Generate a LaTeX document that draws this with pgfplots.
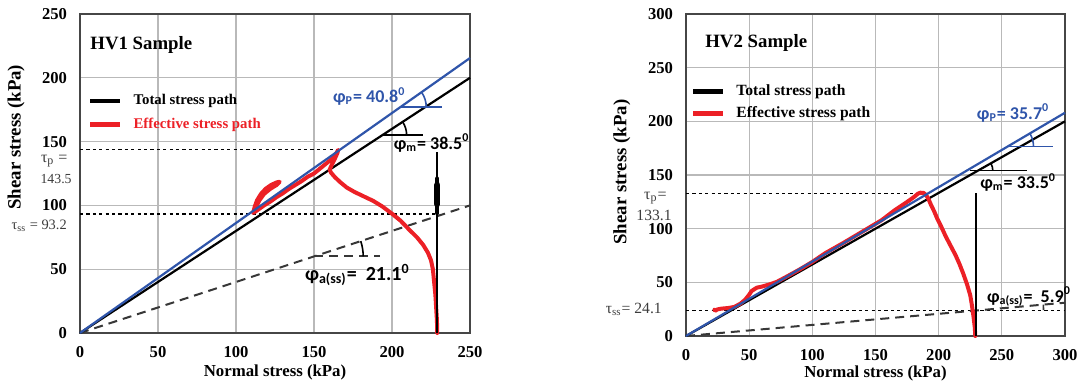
\documentclass[border=0pt]{standalone}
\usepackage{pgfplots}
\pgfplotsset{compat=1.18}
\usepackage{fontspec}
\setmainfont{Liberation Serif}
\newfontfamily\carlito{Carlito}
\definecolor{myblue}{RGB}{47,85,170}
\definecolor{myred}{RGB}{236,32,38}
\definecolor{framegray}{RGB}{70,70,70}
\definecolor{gridgray}{RGB}{185,185,185}
\definecolor{dashgray}{RGB}{55,55,55}
\definecolor{taugray}{RGB}{60,60,60}
\pgfplotsset{
 common/.style={
  scale only axis, clip=false,
  axis line style={framegray, line width=1.3pt},
  grid=major, major grid style={gridgray, line width=0.6pt},
  tick style={draw=none},
  /pgf/number format/assume math mode=true,
  tick label style={font=\bfseries\fontsize{8.3}{9}\selectfont},
  xticklabel style={yshift=-3pt},
  yticklabel style={xshift=-3pt},
  xlabel style={font=\bfseries\fontsize{8.4}{9}\selectfont},
  ylabel style={font=\bfseries\fontsize{9.4}{10}\selectfont},
  xmin=0, ymin=0,
  legend style={draw=none, fill=none, inner sep=0pt, font=\bfseries\fontsize{7.4}{9}\selectfont, row sep=3pt, nodes={inner sep=1pt},
    /tikz/every odd column/.append style={column sep=4.5pt}},
  legend cell align=left,
  legend image code/.code={\draw[#1, line width=2.2pt] (0,0) -- (15pt,0);},
 },
 tauline/.style={black, line width=0.6pt, dash pattern=on 1.6pt off 1.6pt, forget plot},
 dashline/.style={dashgray, line width=1pt, dash pattern=on 4.5pt off 3pt, forget plot},
}
\tikzset{
 ann/.style={inner sep=0pt, font=\carlito\bfseries\fontsize{9}{10}\selectfont},
 tau/.style={inner sep=0pt, anchor=base east, text=taugray},
}
\begin{document}
\begin{tikzpicture}
\path[use as bounding box] (0,0) rectangle (539pt,192.5pt);
% ---------------- HV1 ----------------
\begin{axis}[common,
  at={(40pt,26pt)}, anchor=south west, width=195pt, height=159.5pt,
  xmax=250, ymax=250, xtick={0,50,...,250}, ytick={0,50,...,250},
  xlabel={Normal stress (kPa)}, ylabel={Shear stress (kPa)},
  xlabel style={at={(axis description cs:0.5,-0.125)}, anchor=center},
  ylabel style={at={(axis description cs:-0.164,0.614)}, anchor=center},
  legend style={at={(axis description cs:0.02,0.69)}, anchor=west},
]
\addlegendimage{black}
\addlegendentry{Total stress path}
\addlegendimage{myred}
\addlegendentry{\textcolor{myred}{Effective stress path}}
% tau lines
\addplot[tauline] coordinates {(0,143.5) (165,143.5)};
\addplot[tauline] coordinates {(0,93.2) (229,93.2)};
% dashed line
\addplot[dashline] coordinates {(0,0) (250,100)};
\addplot[dashline] coordinates {(150,60) (192,60)};
% total stress envelope
\addplot[black, line width=1.1pt, forget plot] coordinates {(0,0) (250,200)};
\addplot[black, line width=0.8pt, forget plot] coordinates {(193.75,155) (220,155)};
% effective stress path
\addplot[myred, line width=2pt, line join=round, line cap=round, forget plot] coordinates {
(229,0) (228.8,10) (228.3,20) (227.8,30) (227,40) (226.2,50) (225,57) (223,63) (220,69) (216,75) (211,81) (205.5,88) (200,93.5) (194,99) (188,103.5) (182,107) (176,110.5) (171,114) (167,118) (163.5,122) (161,125.5) (160,128)
(161.5,132) (163.5,137) (165,141) (165.5,143.5)
(163,138) (158,133) (154,129) (150,125) (146,122.5) (142,119) (138,116) (134,113) (130,109.5) (126,106.5) (122,103) (118,100) (114,96.5) (111,94)
(112,99) (113.5,104) (116,109) (119,113) (122.5,116) (126,118) (128,118.5) (126,116) (122,113) (118,109) (115,104) (113,99)
};
% peak envelope
\addplot[myblue, line width=1.1pt, forget plot] coordinates {(0,0) (250,215.5)};
\addplot[myblue, line width=1.2pt, forget plot] coordinates {(205.3,177) (232,177)};
% total stress path (vertical)
\addplot[black, line width=1.1pt, forget plot] coordinates {(229,0) (229,142)};
\addplot[black, line width=2.2pt, line cap=round, forget plot] coordinates {(229,94) (229,121)};
\addplot[black, line width=3.2pt, line cap=round, forget plot] coordinates {(229,101) (229,116)};
% arcs
\draw[myblue, line width=0.8pt] (axis cs:205.3,177) ++(0:13pt) arc[start angle=0, end angle=35.2, radius=13pt];
\draw[black, line width=0.8pt] (axis cs:193.75,155) ++(0:12.2pt) arc[start angle=0, end angle=33.2, radius=12.2pt];
\draw[black, line width=0.8pt] (axis cs:150,60) ++(0:24.6pt) arc[start angle=0, end angle=18.1, radius=24.6pt];
% annotations
\node[inner sep=0pt, anchor=west, font=\bfseries\fontsize{9.4}{10}\selectfont] at (axis cs:6.4,225.7) {HV1 Sample};
\node[ann, anchor=west, text=myblue] at (axis cs:162,185.3) {φ\textsubscript{P}= 40.8\textsuperscript{0}};
\node[ann, anchor=west] at (axis cs:200.9,148.7) {φ\textsubscript{m}= 38.5\textsuperscript{0}};
\node[ann, anchor=west, font=\carlito\bfseries\fontsize{10}{11}\selectfont] at (axis cs:144,45.5) {φ\textsubscript{a(ss)}=\ \ 21.1\textsuperscript{0}};
\node[tau, font=\fontsize{8}{9}\selectfont] at (axis description cs:-0.031,0.533) {τ\textsubscript{p} =};
\node[tau, font=\fontsize{6.9}{8}\selectfont] at (axis description cs:-0.0205,0.470) {143.5};
\node[tau, font=\fontsize{7.2}{8}\selectfont] at (axis description cs:-0.033,0.326) {τ\textsubscript{ss} = 93.2};
\end{axis}
% ---------------- HV2 ----------------
\begin{axis}[common,
  at={(343pt,24.5pt)}, anchor=south west, width=189.5pt, height=161pt,
  xmax=300, ymax=300, xtick={0,50,...,300}, ytick={0,50,...,300},
  xlabel={Normal stress (kPa)}, ylabel={Shear stress (kPa)},
  xlabel style={at={(axis description cs:0.5,-0.115)}, anchor=center},
  ylabel style={at={(axis description cs:-0.169,0.509)}, anchor=center},
  legend style={at={(axis description cs:0.012,0.725)}, anchor=west, row sep=2pt, font=\bfseries\fontsize{7.8}{9}\selectfont},
]
\addlegendimage{black}
\addlegendentry{Total stress path}
\addlegendimage{myred}
\addlegendentry{Effective stress path}
\addplot[tauline] coordinates {(0,133.1) (190,133.1)};
\addplot[tauline] coordinates {(0,24.1) (300,24.1)};
\addplot[dashline] coordinates {(0,0) (300,31)};
\addplot[black, line width=1.1pt, forget plot] coordinates {(0,0) (300,200)};
\addplot[black, line width=0.7pt, forget plot] coordinates {(224.8,154) (269.7,154)};
\addplot[myred, line width=2pt, line join=round, line cap=round, forget plot] coordinates {
(229,0) (228.6,8) (227.6,18) (226.4,28) (225,38) (222.5,48) (219.5,58) (216.5,67) (213.5,75) (209.5,84) (205.5,93) (202,102) (199,109) (196.5,116) (194,122) (192,127.5) (190,131.5) (188,133.3) (185.5,133.5) (183.5,132.5) (181,130) (177,126.5) (172,122.5) (165,117) (155,108) (140,97.5) (125,87) (110,77) (100,69) (90,62) (80,55.5) (72,50.5) (66,48) (60,46) (56,45) (52,42) (50,38.5) (47,34) (43,30) (38,27) (33,26) (28,25.5) (25,24.8) (23,23.5) (22.5,24.5)
};
\addplot[myblue, line width=1.1pt, forget plot] coordinates {(0,0) (300,208)};
\addplot[myblue, line width=0.8pt, forget plot] coordinates {(254.5,176.4) (290.8,176.4)};
\addplot[black, line width=1.1pt, forget plot] coordinates {(229.5,0) (229.5,133)};
\draw[myblue, line width=0.8pt] (axis cs:254.5,176.4) ++(0:13pt) arc[start angle=0, end angle=30.5, radius=13pt];
\draw[black, line width=0.8pt] (axis cs:231,154) ++(0:7.5pt) arc[start angle=0, end angle=29.5, radius=7.5pt];
\draw[dashgray, line width=0.8pt] (axis cs:233,24.1) ++(0:31.6pt) arc[start angle=0, end angle=5, radius=31.6pt];
\node[inner sep=0pt, anchor=west, font=\bfseries\fontsize{9.4}{10}\selectfont] at (axis cs:15,272.7) {HV2 Sample};
\node[ann, anchor=west, text=myblue] at (axis cs:230,207.5) {φ\textsubscript{P}= 35.7\textsuperscript{0}};
\node[ann, anchor=west] at (axis cs:232.7,142.9) {φ\textsubscript{m}= 33.5\textsuperscript{0}};
\node[ann, anchor=west] at (axis cs:238,36.6) {φ\textsubscript{a(ss)}=\ \ 5.9\textsuperscript{0}};
\node[tau, font=\fontsize{8}{9}\selectfont] at (axis description cs:-0.050,0.425) {τ\textsubscript{p}=};
\node[tau, font=\fontsize{7.8}{9}\selectfont] at (axis description cs:-0.037,0.360) {133.1};
\node[tau, font=\fontsize{7.8}{9}\selectfont] at (axis description cs:-0.063,0.071) {τ\textsubscript{ss}= 24.1};
\end{axis}
\end{tikzpicture}
\end{document}
